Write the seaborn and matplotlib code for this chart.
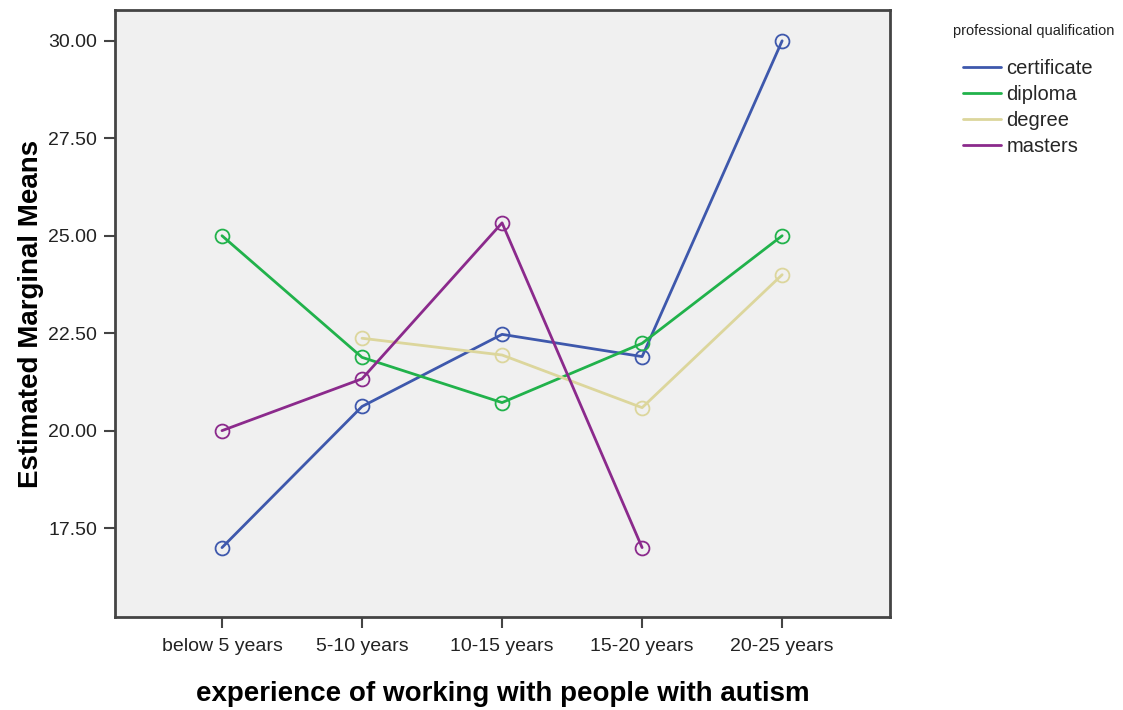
import numpy as np
import matplotlib
matplotlib.use("Agg")
import matplotlib.pyplot as plt
import pandas as pd
import seaborn as sns

experience = ["below 5 years", "5-10 years", "10-15 years", "15-20 years", "20-25 years"]
certificate = [17.00, 20.62, 22.47, 21.90, 30.00]
diploma = [25.00, 21.88, 20.72, 22.24, 25.00]
degree = [np.nan, 22.37, 21.94, 20.59, 24.00]
masters = [20.00, 21.33, 25.33, 17.00, np.nan]
groups = ["certificate", "diploma", "degree", "masters"]
colors = ["#3e58ac", "#21b24b", "#dcd69c", "#8b2a8c"]
y_ticks = [17.5, 20.0, 22.5, 25.0, 27.5, 30.0]

rows = []
for name, vals in zip(groups, [certificate, diploma, degree, masters]):
    for i, v in enumerate(vals):
        if not np.isnan(v):
            rows.append({"pos": i, "mean": v, "qualification": name})
df = pd.DataFrame(rows)

sns.set_style("white")
plt.rcParams["font.family"] = ["Liberation Sans", "DejaVu Sans"]

fig = plt.figure(figsize=(11.23, 7.10), dpi=100)
ax = fig.add_axes([0.1024, 0.131, 0.6901, 0.8549])
ax.set_facecolor("#f0f0f0")

sns.lineplot(data=df, x="pos", y="mean", hue="qualification", hue_order=groups,
             palette=colors, marker="o", markersize=10, linewidth=2, ax=ax)
for line in ax.lines:
    line.set_markerfacecolor("none")
    line.set_markeredgecolor(line.get_color())
    line.set_markeredgewidth(1.3)

ax.set_xlim(-0.764, 4.77)
ax.set_ylim(15.22, 30.79)
ax.set_xticks(range(len(experience)))
ax.set_xticklabels(experience, fontsize=14, color="#222222")
ax.set_yticks(y_ticks)
ax.set_yticklabels([f"{t:.2f}" for t in y_ticks], fontsize=14, color="#222222")
ax.tick_params(axis="both", direction="out", length=8, width=1.5, color="#444444",
               bottom=True, left=True)
ax.tick_params(axis="x", pad=7)
ax.tick_params(axis="y", pad=5)
for s in ax.spines.values():
    s.set_color("#444444")
    s.set_linewidth(2)

ax.set_xlabel("experience of working with people with autism", fontsize=20,
              fontweight="bold", labelpad=19, color="black")
ax.set_ylabel("Estimated Marginal Means", fontsize=20, fontweight="bold", labelpad=3,
              color="black")

handles, labels = ax.get_legend_handles_labels()
ax.get_legend().remove()
for h in handles:
    h.set_marker("")
fig.text(953 / 1123, 1 - 31 / 710, "professional qualification", fontsize=10.5,
         va="center", ha="left", color="#222222")
leg = fig.legend(handles, labels, loc="upper left", bbox_to_anchor=(963 / 1123, 1 - 59 / 710),
                 frameon=False, fontsize=14.5, handlelength=1.9, handletextpad=0.25,
                 labelspacing=0.35, borderaxespad=0, borderpad=0)

fig.savefig("out.png", dpi=100)
